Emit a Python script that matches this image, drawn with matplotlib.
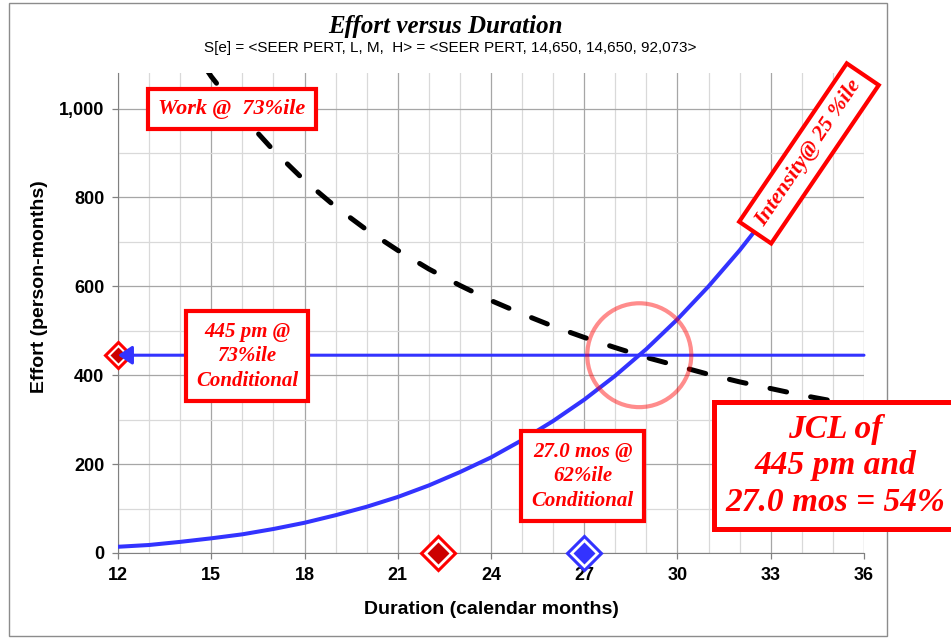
import numpy as np
import matplotlib
matplotlib.use('Agg')
import matplotlib.pyplot as plt
from matplotlib.patches import Ellipse, Rectangle
from matplotlib.ticker import MultipleLocator, FuncFormatter

plt.rcParams['font.family'] = ['Liberation Sans', 'DejaVu Sans']
plt.rcParams['font.weight'] = 'bold'

# duration axis (calendar months)
months = [12, 13, 14, 15, 16, 17, 18, 19, 20, 21, 22, 23, 24,
          25, 26, 27, 28, 29, 30, 31, 32, 33, 34, 35, 36]
# work curve @ 73%ile (person-months)
work = [1449, 1301, 1177, 1072, 983, 906, 838, 779, 727, 681, 639, 602, 568,
        538, 510, 485, 462, 440, 421, 402, 385, 370, 355, 342, 329]
# intensity curve @ 25%ile
intensity = [14, 18, 25, 33, 42, 54, 68, 85, 104, 126, 152, 182, 215,
             254, 297, 345, 399, 459, 526, 600, 681, 770, 867, 974, 1090]

effort_pm = 445          # conditional effort
duration_mos = 27.0      # conditional duration
duration_red = 22.3      # red marker on duration axis
cross = (28.77, 445)     # where work and intensity meet

RED = '#FF0000'
BLUE = '#3333FF'
DARKRED = '#CC0000'

fig = plt.figure(figsize=(9.51, 6.39), dpi=100)
ax = fig.add_axes([0.1241, 0.1346, 0.7844, 0.7512])

# outer chart border
fig.add_artist(Rectangle((9/951, 3/639), 878/951, 633/639, transform=fig.transFigure,
                         fill=False, ec='#8C8C8C', lw=1, zorder=-1))

ax.set_xlim(12, 36)
ax.set_ylim(0, 1080)
ax.xaxis.set_major_locator(MultipleLocator(3))
ax.xaxis.set_minor_locator(MultipleLocator(1))
ax.yaxis.set_major_locator(MultipleLocator(200))
ax.yaxis.set_minor_locator(MultipleLocator(100))
ax.yaxis.set_major_formatter(FuncFormatter(lambda v, p: f'{v:,.0f}'))
ax.set_axisbelow(True)
ax.grid(which='major', color='#A6A6A6', lw=0.9)
ax.grid(which='minor', color='#D9D9D9', lw=0.9)
ax.tick_params(which='minor', length=0)
ax.tick_params(which='major', length=4, width=0.9, color='#808080', pad=6, labelsize=13)
for s in ['top', 'right']:
    ax.spines[s].set_visible(False)
for s in ['left', 'bottom']:
    ax.spines[s].set_color('#808080')

# curves
ax.plot(months, intensity, color=BLUE, lw=2.9, zorder=3)
ax.plot(months, work, color='black', lw=3.6, linestyle=(0, (3.4, 4.9)),
        dash_capstyle='round', zorder=4)

# horizontal effort line with arrow to the axis
ax.annotate('', xy=(months[0], effort_pm), xytext=(months[-1], effort_pm),
            arrowprops=dict(arrowstyle='-|>,head_length=0.6,head_width=0.4',
                            color=BLUE, lw=2.2, shrinkA=0, shrinkB=0,
                            mutation_scale=14), zorder=6)

# circle around the crossing point
ax.add_patch(Ellipse(cross, width=104/31.08, height=104/0.445, fill=False,
                     ec=RED, alpha=0.45, lw=3, zorder=6))


def diamond(x, y, fill, edge, ms_out, ms_in, z):
    ax.plot(x, y, marker='D', ms=ms_out, mfc='white', mec=edge, mew=2.2,
            clip_on=False, zorder=z)
    ax.plot(x, y, marker='D', ms=ms_in, mfc=fill, mec='none',
            clip_on=False, zorder=z)


diamond(months[0], effort_pm, DARKRED, RED, 13, 8, 5)
diamond(duration_red, 0, DARKRED, RED, 17.5, 11.5, 7)
diamond(duration_mos, 0, BLUE, BLUE, 17.5, 11.5, 7)

ann = dict(family='Liberation Serif', weight='bold', style='italic', color=RED,
           ha='center', va='center', zorder=9, clip_on=False)

ax.text(15.67, 998, 'Work @  73%ile', fontsize=16,
        bbox=dict(boxstyle='square,pad=0.45', fc='white', ec=RED, lw=3), **ann)
ax.text(16.15, 443, f'{effort_pm} pm @\n73%ile\nConditional', fontsize=15,
        linespacing=1.3,
        bbox=dict(boxstyle='square,pad=0.5', fc='white', ec=RED, lw=3), **ann)
ax.text(26.95, 173, f'{duration_mos:.1f} mos @\n62%ile\nConditional', fontsize=15,
        linespacing=1.3,
        bbox=dict(boxstyle='square,pad=0.5', fc='white', ec=RED, lw=3), **ann)
ax.text(35.07, 196, f'JCL of\n{effort_pm} pm and\n{duration_mos:.1f} mos = 54%',
        fontsize=24, linespacing=1.22,
        bbox=dict(boxstyle='square,pad=0.35', fc='white', ec=RED, lw=3.6), **ann)
ax.text(34.23, 899, 'Intensity@ 25 %ile', fontsize=16, rotation=55.8,
        rotation_mode='anchor',
        bbox=dict(boxstyle='square,pad=0.42', fc='white', ec=RED, lw=3), **ann)

# titles and axis labels
fig.text(445/951, 1 - 27/639, 'Effort versus Duration', ha='center', va='center',
         family='Liberation Serif', weight='bold', style='italic', fontsize=18)
fig.text(450/951, 1 - 48/639,
         'S[e] = <SEER PERT, L, M,  H> = <SEER PERT, 14,650, 14,650, 92,073>',
         ha='center', va='center', fontsize=11, weight='normal')
fig.text(40/951, 1 - 287/639, 'Effort (person-months)', rotation=90,
         ha='center', va='center', fontsize=14)
fig.text(491/951, 30/639, 'Duration (calendar months)', ha='center', va='center',
         fontsize=14)

fig.savefig('out.png', dpi=100)
